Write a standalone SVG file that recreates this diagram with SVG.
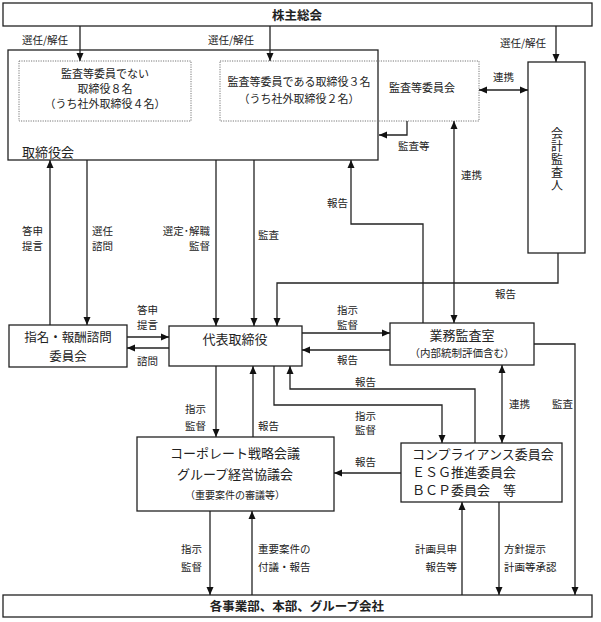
<svg xmlns="http://www.w3.org/2000/svg" width="601" height="622" viewBox="0 0 601 622">
<style>
text{font-family:"Noto Sans CJK JP","Noto Sans",sans-serif;fill:#222}
.box{fill:#fff;stroke:#222;stroke-width:1.3}
.dot{fill:none;stroke:#777;stroke-width:1;stroke-dasharray:1.2,1.2}
.t{font-size:13px;text-anchor:middle}
.s{font-size:11px;text-anchor:middle}
.b{font-size:12.5px;font-weight:bold;text-anchor:middle}
.l{font-size:10.5px}
.e{text-anchor:end}
.v{font-size:12px;writing-mode:vertical-rl;text-anchor:start;letter-spacing:1px}
.c path{fill:none;stroke:#222;stroke-width:1.3}
</style>
<defs>
<marker id="a" viewBox="0 0 8 8" refX="8" refY="4" markerWidth="8" markerHeight="8" markerUnits="userSpaceOnUse" orient="auto-start-reverse">
<path d="M0,0.5 L8,4 L0,7.5 z" fill="#111"/>
</marker>
</defs>
<g id="kabunushi"><rect class="box" x="3" y="3" width="589" height="23"/><text class="b" x="297" y="20">株主総会</text></g>
<g id="torishimariyakukai"><rect class="box" x="8" y="50" width="370" height="110"/><text x="22" y="157" style="font-size:13px">取締役会</text></g>
<g id="directors1"><rect class="dot" x="19" y="61" width="172" height="60"/>
<text class="s" x="105" y="78">監査等委員でない</text><text class="s" x="105" y="93">取締役８名</text><text class="s" x="105" y="108">（うち社外取締役４名）</text></g>
<g id="directors2"><rect class="dot" x="220" y="61" width="259" height="60"/>
<text class="s" x="299" y="86">監査等委員である取締役３名</text><text class="s" x="299" y="103">（うち社外取締役２名）</text>
<text class="s" x="422" y="92">監査等委員会</text></g>
<g id="kaikei"><rect class="box" x="528" y="62" width="57" height="191"/>
<text class="v" x="557" y="127">会計監査人</text></g>
<g id="shimei"><rect class="box" x="9" y="325" width="118" height="42"/><text class="t" x="68" y="342" style="font-size:12.5px">指名・報酬諮問</text><text class="t" x="68" y="361" style="font-size:12.5px">委員会</text></g>
<g id="daihyo"><rect class="box" x="169" y="326" width="133" height="40"/><text class="t" x="235" y="344">代表取締役</text></g>
<g id="gyomu"><rect class="box" x="390" y="323" width="144" height="42"/><text class="t" x="462" y="340">業務監査室</text><text class="s" x="462" y="357" style="font-size:10.5px">（内部統制評価含む）</text></g>
<g id="corporate"><rect class="box" x="137" y="437" width="197" height="74"/><text class="t" x="235" y="458">コーポレート戦略会議</text><text class="t" x="235" y="479">グループ経営協議会</text><text class="s" x="235" y="499" style="font-size:10px">（重要案件の審議等）</text></g>
<g id="compliance"><rect class="box" x="401" y="443" width="161" height="59"/><text x="412" y="459" style="font-size:13px">コンプライアンス委員会</text><text x="412" y="477" style="font-size:13px">ＥＳＧ推進委員会</text><text x="412" y="495" style="font-size:13px">ＢＣＰ委員会　等</text></g>
<g id="jigyobu"><rect class="box" x="3" y="595" width="589" height="22"/><text class="b" x="297" y="611">各事業部、本部、グループ会社</text></g>
<g id="connectors" class="c">
<path d="M80,26 V61" marker-end="url(#a)"/>
<path d="M270,26 V61" marker-end="url(#a)"/>
<path d="M556,26 V62" marker-end="url(#a)"/>
<path d="M479,90 H528" marker-start="url(#a)" marker-end="url(#a)"/>
<path d="M407,121 V135 H379" marker-end="url(#a)"/>
<path d="M454,121 V323" marker-start="url(#a)" marker-end="url(#a)"/>
<path d="M423,323 V224 H351 V160" marker-end="url(#a)"/>
<path d="M558,253 V283 H277 V326" marker-end="url(#a)"/>
<path d="M50,325 V160" marker-end="url(#a)"/>
<path d="M87,160 V325" marker-end="url(#a)"/>
<path d="M216,160 V326" marker-end="url(#a)"/>
<path d="M254,160 V326" marker-end="url(#a)"/>
<path d="M127,337 H169" marker-end="url(#a)"/>
<path d="M169,348 H127" marker-end="url(#a)"/>
<path d="M302,333 H390" marker-end="url(#a)"/>
<path d="M390,350 H302" marker-end="url(#a)"/>
<path d="M534,344 H575 V595" marker-end="url(#a)"/>
<path d="M502,365 V443" marker-start="url(#a)" marker-end="url(#a)"/>
<path d="M216,366 V437" marker-end="url(#a)"/>
<path d="M253,437 V366" marker-end="url(#a)"/>
<path d="M274,366 V405 H442 V443" marker-end="url(#a)"/>
<path d="M475,443 V389 H290 V366" marker-end="url(#a)"/>
<path d="M401,473 H334" marker-end="url(#a)"/>
<path d="M210,511 V595" marker-end="url(#a)"/>
<path d="M252,595 V511" marker-end="url(#a)"/>
<path d="M462,595 V502" marker-end="url(#a)"/>
<path d="M499,502 V595" marker-end="url(#a)"/>
</g>
<g id="labels">
<text class="l" x="22" y="44">選任/解任</text>
<text class="l" x="208" y="44">選任/解任</text>
<text class="l" x="500" y="47">選任/解任</text>
<text class="l" x="493" y="81">連携</text>
<text class="l" x="398" y="150">監査等</text>
<text class="l" x="461" y="179">連携</text>
<text class="l" x="327" y="207">報告</text>
<text class="l" x="495" y="298">報告</text>
<text class="l" x="22" y="235">答申</text><text class="l" x="22" y="250">提言</text>
<text class="l" x="92" y="235">選任</text><text class="l" x="92" y="250">諮問</text>
<text class="l e" x="210" y="235">選定･解職</text><text class="l e" x="210" y="250">監督</text>
<text class="l" x="258" y="239">監査</text>
<text class="l" x="137" y="314">答申</text><text class="l" x="137" y="329">提言</text>
<text class="l" x="137" y="365">諮問</text>
<text class="l" x="337" y="314">指示</text><text class="l" x="337" y="329">監督</text>
<text class="l" x="337" y="364">報告</text>
<text class="l" x="355" y="386">報告</text>
<text class="l" x="355" y="420">指示</text><text class="l" x="355" y="434">監督</text>
<text class="l" x="355" y="466">報告</text>
<text class="l" x="509" y="408">連携</text>
<text class="l" x="552" y="408">監査</text>
<text class="l" x="185" y="413">指示</text><text class="l" x="185" y="430">監督</text>
<text class="l" x="258" y="430">報告</text>
<text class="l" x="181" y="553">指示</text><text class="l" x="181" y="571">監督</text>
<text class="l" x="258" y="553">重要案件の</text><text class="l" x="258" y="571">付議・報告</text>
<text class="l e" x="457" y="553">計画具申</text><text class="l e" x="457" y="571">報告等</text>
<text class="l" x="504" y="553">方針提示</text><text class="l" x="504" y="571">計画等承認</text>
</g>
</svg>
